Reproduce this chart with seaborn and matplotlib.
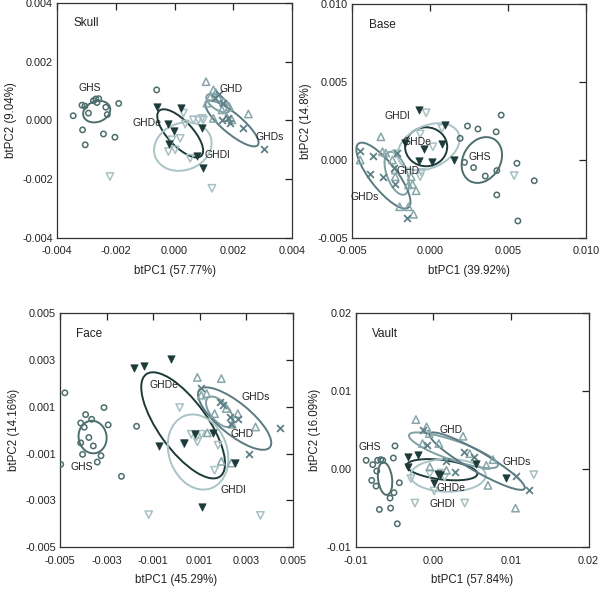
import pandas as pd
import matplotlib
matplotlib.use('Agg')
import matplotlib.pyplot as plt
from matplotlib.patches import Ellipse
from matplotlib.ticker import FormatStrFormatter
import seaborn as sns

# ---- Skull ----
skull_ghs = [(-0.00345, 0.00016), (-0.00315, 0.00052), (-0.00305, 0.00049), (-0.00276, 0.00067),
             (-0.00268, 0.00073), (-0.00258, 0.00074), (-0.00264, 0.00061), (-0.00293, 0.00025),
             (-0.00234, 0.00045), (-0.00229, 0.0002), (-0.0019, 0.00058), (-0.00313, -0.00032),
             (-0.00304, -0.00083), (-0.00242, -0.00046), (-0.00203, -0.00057), (-0.00061, 0.00104)]
skull_ghde = [(-0.00061, 0.00045), (0.00022, 0.00041), (-0.00024, -0.00012), (-0.00001, -0.00036),
              (-0.00018, -0.0008), (0.00076, -0.00121), (0.00093, -0.00024), (0.00096, -0.00163)]
skull_ghdl = [(-0.0022, -0.00191), (-0.00021, -0.00106), (0.00002, -0.001), (0.00019, -0.00061),
              (0.00053, -0.00129), (0.00064, 0.00002), (0.00081, 0.00002), (0.00093, 0.00007),
              (0.00098, 0.00002), (0.00127, -0.00231), (0.00036, -0.00012), (-0.00009, -0.00066),
              (0.0003, 0.00025)]
skull_ghd = [(0.00107, 0.00132), (0.00132, 0.00104), (0.0014, 0.00095), (0.00121, 0.00079),
             (0.00149, 0.00076), (0.00166, 0.00064), (0.00186, 0.00047), (0.00161, 0.00036),
             (0.00251, 0.00022), (0.00132, 0.00007), (0.00178, 0.00011), (0.00195, 0.00002),
             (0.0011, 0.00059)]
skull_ghds = [(0.00138, 0.00076), (0.00166, 0.00059), (0.0015, 0.0009), (0.00161, 0.00002),
              (0.00183, 0.00008), (0.0019, -0.0001), (0.00234, -0.00027), (0.00305, -0.00097)]
# group, centre x, centre y, width, height, angle
skull_ellipses = [('GHS', -0.00265, 0.0003, 0.00095, 0.0007, 20),
                  ('GHDe', 0.00019, -0.00044, 0.0021, 0.00085, -47),
                  ('GHDl', 0.00028, -0.00089, 0.002, 0.0016, 20),
                  ('GHD', 0.00149, 0.00059, 0.00094, 0.00045, -33),
                  ('GHDs', 0.00195, -0.0001, 0.0023, 0.00068, -40)]
skull_labels = [('GHS', -0.0029, 0.0011), ('GHDe', -0.00095, -0.00007), ('GHDl', 0.00144, -0.00117),
                ('GHD', 0.00191, 0.00106), ('GHDs', 0.00325, -0.00055)]

# ---- Base ----
base_ghs = [(0.00455, 0.00288), (0.00239, 0.00218), (0.00306, 0.00199), (0.00423, 0.00181),
            (0.00192, 0.00139), (0.0022, -0.00015), (0.00278, -0.00049), (0.00353, -0.00103),
            (0.00427, -0.00068), (0.00556, -0.00021), (0.00667, -0.00133), (0.00427, -0.00224),
            (0.00562, -0.00391)]
base_ghde = [(-0.0007, 0.0032), (0.00098, 0.00224), (-0.0016, 0.00111), (-0.00037, 0.0007),
             (0.00075, 0.00103), (-0.0007, -0.00006), (0.00011, -0.0001), (0.0015, 0.0)]
base_ghdl = [(-0.00026, 0.00303), (-0.00064, 0.00167), (0.00017, 0.00085), (0.00075, 0.00203),
             (-0.00064, -0.00107), (-0.00055, -0.0008), (0.00538, -0.001), (-0.0022, 0.0004)]
base_ghd = [(-0.00316, 0.00149), (-0.00306, 0.00053), (-0.00449, 0.0), (-0.00224, -0.00064),
            (-0.00224, -0.00107), (-0.00122, -0.00107), (-0.00113, -0.00156), (-0.0009, -0.00197),
            (-0.00196, -0.003), (-0.00139, -0.003), (-0.00107, -0.00348), (-0.00139, -0.0016),
            (-0.00242, 0.0), (-0.00285, 0.00045)]
base_ghds = [(-0.0045, 0.0006), (-0.00367, 0.00028), (-0.00389, -0.0009), (-0.003, -0.00107),
             (-0.0021, 0.00043), (-0.00224, -0.00154), (-0.0015, -0.00374), (-0.00235, -0.00053)]
base_ellipses = [('GHS', 0.00331, 0.0, 0.0031, 0.0024, 60),
                 ('GHDe', -0.00026, 0.00085, 0.0027, 0.0025, 0),
                 ('GHDl', -0.0001, 0.00085, 0.0042, 0.0027, 25),
                 ('GHD', -0.00214, -0.00085, 0.0029, 0.0013, -70),
                 ('GHDs', -0.003, -0.001, 0.0052, 0.0017, -52)]
base_labels = [('GHDl', -0.00213, 0.00282), ('GHDe', -0.00085, 0.00117), ('GHD', -0.00139, -0.00069),
               ('GHDs', -0.00417, -0.00239), ('GHS', 0.00316, 0.00021)]

# ---- Face ----
face_ghs = [(-0.00479, 0.0016), (-0.00311, 0.00097), (-0.0039, 0.00067), (-0.00364, 0.00047),
            (-0.00411, 0.00031), (-0.00396, 0.00013), (-0.00293, 0.00023), (-0.00376, -0.00031),
            (-0.00411, -0.00054), (-0.00357, -0.00067), (-0.00403, -0.00103), (-0.00324, -0.00109),
            (-0.0034, -0.00136), (-0.00497, -0.00146), (-0.00171, 0.00017), (-0.00236, -0.00197)]
face_ghde = [(-0.00183, 0.00267), (-0.00139, 0.00274), (-0.00024, 0.00303), (-0.00074, -0.00069),
             (0.00079, -0.00017), (0.00031, -0.00054), (0.00157, -0.0001), (0.00253, -0.0014),
             (0.00111, -0.00329)]
face_ghdl = [(0.00014, 0.00097), (0.00107, -0.00017), (0.00086, -0.00029), (0.0009, -0.0005),
             (0.00033, -0.00057), (0.00179, -0.00064), (0.00164, -0.00171), (-0.00119, -0.00361),
             (0.00361, -0.00364), (0.00064, -0.00017)]
face_ghd = [(0.0009, 0.00226), (0.00193, 0.00221), (0.00107, 0.0015), (0.0013, 0.00157),
            (0.00164, 0.00071), (0.00214, 0.00093), (0.00264, 0.00071), (0.0034, 0.00014),
            (0.00133, -0.00011), (0.00193, -0.00133), (0.00236, -0.0014), (0.0024, 0.00026)]
face_ghds = [(0.00107, 0.00179), (0.00186, 0.00121), (0.002, 0.00107), (0.00236, 0.00026),
             (0.00264, 0.0005), (0.00443, 0.0001), (0.0031, -0.001), (0.00229, 0.00057)]
face_ellipses = [('GHS', -0.0036, -0.00029, 0.0012, 0.0014, 10),
                 ('GHDe', 0.00029, 0.00021, 0.0054, 0.0021, -54),
                 ('GHDl', 0.00093, -0.00093, 0.0033, 0.0025, -70),
                 ('GHD', 0.00186, 0.00079, 0.00157, 0.00079, -50),
                 ('GHDs', 0.0025, 0.0005, 0.0039, 0.00136, -39)]
face_labels = [('GHDe', -0.00053, 0.00193), ('GHDs', 0.0034, 0.00143), ('GHD', 0.00281, -0.00014),
               ('GHDl', 0.00243, -0.00254), ('GHS', -0.00407, -0.00157)]

# ---- Vault ----
vault_ghs = [(-0.00867, 0.00114), (-0.00782, 0.00059), (-0.00718, 0.00114), (-0.00679, 0.00123),
             (-0.00653, 0.00114), (-0.0073, -0.00023), (-0.00795, -0.00143), (-0.00739, -0.00216),
             (-0.00495, 0.00299), (-0.00516, 0.00144), (-0.00439, -0.00173), (-0.00508, -0.00301),
             (-0.00559, -0.0037), (-0.00696, -0.00516), (-0.00551, -0.00499), (-0.00465, -0.007)]
vault_ghde = [(-0.00332, 0.00157), (-0.00195, 0.00179), (-0.00324, 0.00029), (0.00053, -0.00057),
              (0.00083, -0.00079), (0.0001, -0.00177), (0.00553, 0.00071), (0.0093, -0.00109)]
vault_ghdl = [(-0.0029, -0.00121), (-0.00238, -0.00434), (0.0001, -0.0028), (-0.00046, -0.00057),
              (0.001, -0.00049), (0.00404, -0.00434), (0.01294, -0.0007), (0.00145, -0.00103)]
vault_ghd = [(-0.00225, 0.00637), (-0.00088, 0.00543), (-0.00054, 0.00457), (-0.0014, 0.00329),
             (0.0007, 0.00329), (0.00382, 0.00423), (0.00468, 0.002), (0.00682, 0.0005),
             (0.00768, 0.00123), (0.00703, -0.00207), (0.01058, -0.00499), (0.00168, -0.00014),
             (-0.00046, 0.00029)]
vault_ghds = [(-0.00131, 0.00508), (-0.0008, 0.00307), (0.00397, 0.00222), (0.00517, 0.00158),
              (0.00275, -0.00034), (0.01067, -0.00091), (0.01238, -0.00271), (0.0016, 0.001)]
vault_ellipses = [('GHS', -0.00623, -0.00121, 0.0042, 0.0018, 97),
                  ('GHDe', 0.0011, -0.00006, 0.0092, 0.0025, -7),
                  ('GHDl', 0.00189, -0.00079, 0.0097, 0.0042, 0),
                  ('GHD', 0.00258, 0.00243, 0.0121, 0.0025, -19),
                  ('GHDs', 0.00564, 0.00104, 0.0141, 0.0025, -30)]
vault_labels = [('GHS', -0.00816, 0.00286), ('GHD', 0.00224, 0.00509), ('GHDs', 0.01067, 0.00093),
                ('GHDe', 0.00232, -0.00241), ('GHDl', 0.00117, -0.00451)]

groups = ['GHS', 'GHDl', 'GHD', 'GHDs', 'GHDe']
point_colors = {'GHS': '#4e6d6d', 'GHDe': '#1c3a38', 'GHDl': '#a8c0c4',
                'GHD': '#87a6aa', 'GHDs': '#5f8087'}
ell_colors = {'GHS': '#4e6d6d', 'GHDe': '#1c3a38', 'GHDl': '#a9c3c6',
              'GHD': '#7f9fa3', 'GHDs': '#597a80'}
markers = {'GHS': 'o', 'GHDe': 'v', 'GHDl': 'v', 'GHD': '^', 'GHDs': 'x'}
sizes = {'GHS': 15, 'GHDe': 28, 'GHDl': 28, 'GHD': 28, 'GHDs': 24}

sns.set_theme(style='white')
plt.rcParams['font.family'] = ['Liberation Sans', 'DejaVu Sans']

panels = [
    ('Skull', {'GHS': skull_ghs, 'GHDe': skull_ghde, 'GHDl': skull_ghdl, 'GHD': skull_ghd, 'GHDs': skull_ghds},
     skull_ellipses, skull_labels, (-0.004, 0.004), [-0.004, -0.002, 0.0, 0.002, 0.004], '%.3f',
     'btPC1 (57.77%)', 'btPC2 (9.04%)', [0.095, 0.596, 0.392, 0.399]),
    ('Base', {'GHS': base_ghs, 'GHDe': base_ghde, 'GHDl': base_ghdl, 'GHD': base_ghd, 'GHDs': base_ghds},
     base_ellipses, base_labels, (-0.005, 0.010), [-0.005, 0.0, 0.005, 0.010], '%.3f',
     'btPC1 (39.92%)', 'btPC2 (14.8%)', [0.587, 0.596, 0.39, 0.397]),
    ('Face', {'GHS': face_ghs, 'GHDe': face_ghde, 'GHDl': face_ghdl, 'GHD': face_ghd, 'GHDs': face_ghds},
     face_ellipses, face_labels, (-0.005, 0.005), [-0.005, -0.003, -0.001, 0.001, 0.003, 0.005], '%.3f',
     'btPC1 (45.29%)', 'btPC2 (14.16%)', [0.1, 0.071, 0.388, 0.397]),
    ('Vault', {'GHS': vault_ghs, 'GHDe': vault_ghde, 'GHDl': vault_ghdl, 'GHD': vault_ghd, 'GHDs': vault_ghds},
     vault_ellipses, vault_labels, (-0.01, 0.02), [-0.01, 0.0, 0.01, 0.02], '%.2f',
     'btPC1 (57.84%)', 'btPC2 (16.09%)', [0.593, 0.071, 0.388, 0.397]),
]

fig = plt.figure(figsize=(6.0, 5.89), dpi=100)

for title, pts, ellipses, labels, lim, ticks, fmt, xlab, ylab, rect in panels:
    ax = fig.add_axes(rect)
    for g in groups:
        df = pd.DataFrame(pts[g], columns=['x', 'y'])
        col = point_colors[g]
        if g in ('GHS', 'GHDl', 'GHD'):
            sns.scatterplot(data=df, x='x', y='y', ax=ax, marker=markers[g], s=sizes[g],
                            facecolor='none', edgecolor=col, linewidth=1.1, zorder=3)
        elif g == 'GHDs':
            sns.scatterplot(data=df, x='x', y='y', ax=ax, marker='x', s=sizes[g],
                            color=col, linewidth=1.3, zorder=3)
        else:
            sns.scatterplot(data=df, x='x', y='y', ax=ax, marker=markers[g], s=sizes[g],
                            color=col, edgecolor=col, linewidth=0.5, zorder=4)
    for g, cx, cy, w, h, ang in ellipses:
        ax.add_patch(Ellipse((cx, cy), w, h, angle=ang, fill=False,
                             edgecolor=ell_colors[g], linewidth=1.4, zorder=2))
    for g, tx, ty in labels:
        ax.text(tx, ty, g, fontsize=7.5, ha='center', va='center', color='#222222', zorder=5)
    ax.text(0.07, 0.9, title, transform=ax.transAxes, fontsize=8.5, color='#222222')
    ax.set_xlim(lim)
    ax.set_ylim(lim)
    ax.set_xticks(ticks)
    ax.set_yticks(ticks)
    ax.xaxis.set_major_formatter(FormatStrFormatter(fmt))
    ax.yaxis.set_major_formatter(FormatStrFormatter(fmt))
    ax.tick_params(direction='in', top=True, right=True, length=5, width=0.9,
                   labelsize=7.8, colors='#222222')
    ax.tick_params(axis='x', pad=6)
    ax.tick_params(axis='y', pad=3)
    for sp in ax.spines.values():
        sp.set_color('#333333')
        sp.set_linewidth(0.9)
    ax.set_xlabel(xlab, fontsize=8.3, color='#222222', labelpad=6)
    ax.set_ylabel(ylab, fontsize=8.3, color='#222222', labelpad=4)

fig.savefig('out.png', dpi=100)
